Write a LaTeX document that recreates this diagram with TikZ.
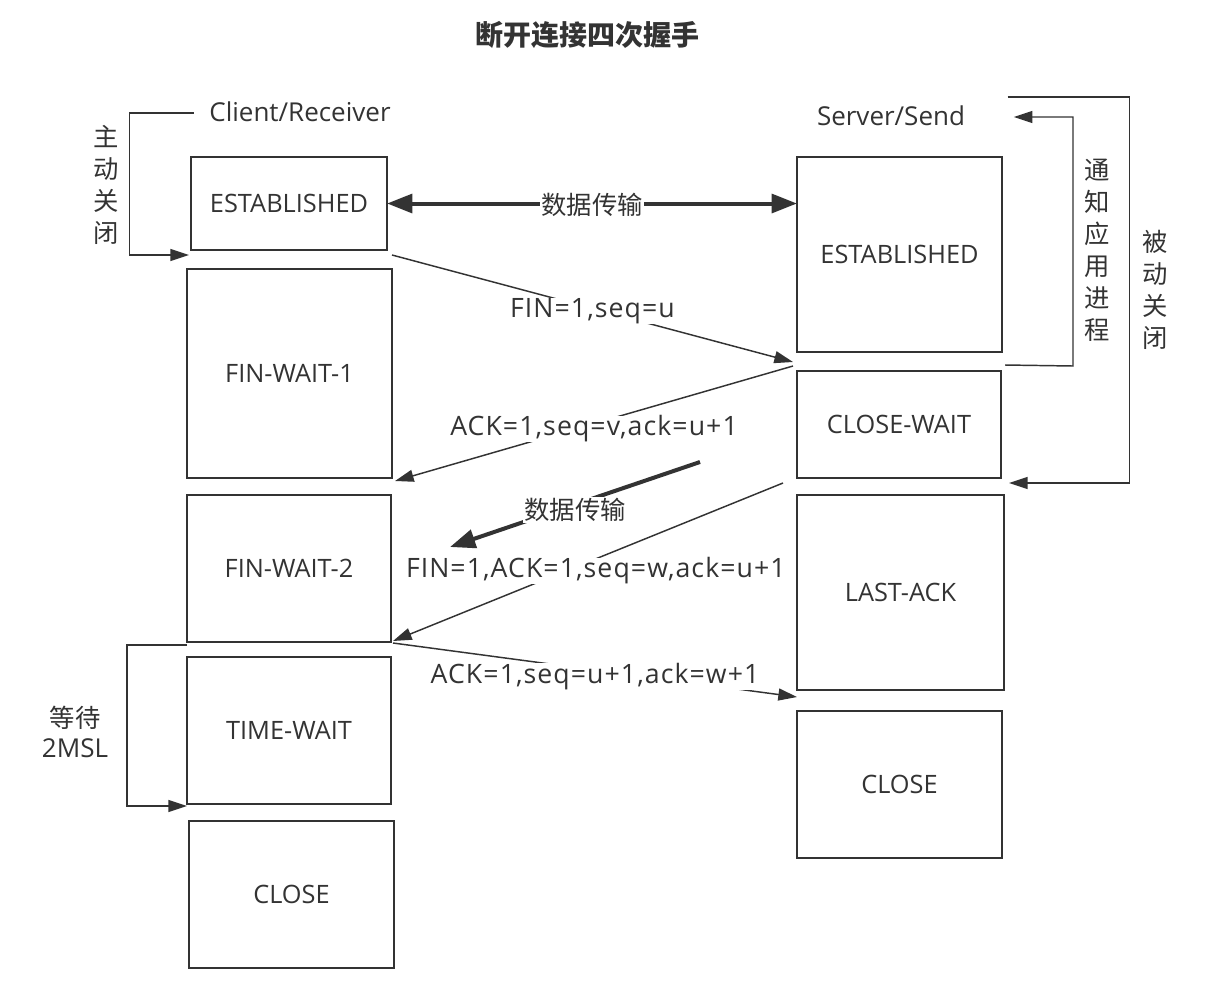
\documentclass[tikz,border=0pt]{standalone}
\usepackage{fontspec}
\setmainfont{Open Sans}
\newfontfamily\cjk{Noto Sans CJK SC}
\newfontfamily\lblfont[LetterSpace=4]{Open Sans}
\usetikzlibrary{arrows.meta,calc}
\definecolor{ink}{HTML}{333333}
\begin{document}
\begin{tikzpicture}[x=0.75pt,y=-0.75pt,
  every node/.style={text=ink,font=\fontsize{19}{22}\selectfont},
  state/.style={draw=ink,line width=1.5pt,outer sep=0pt,inner sep=0pt},
  conn/.style={draw=ink,line width=1.1pt,-{Triangle[length=14pt,width=9pt]}},
  thickconn/.style={draw=ink,line width=3pt,-{Triangle[length=19pt,width=14pt]}},
  lbl/.style={fill=white,inner sep=0pt,font=\lblfont\fontsize{20}{22}\selectfont},
  cjklbl/.style={fill=white,inner sep=1pt,font=\cjk\fontsize{19}{22}\selectfont},
  cjkv/.style={align=center,font=\cjk\fontsize{19}{24}\selectfont}]
\useasboundingbox (0,0) rectangle (1214,1000);

\node[font=\cjk\bfseries\fontsize{21}{24}\selectfont] (title) at (587,35) {断开连接四次握手};
\node[font=\fontsize{19.5}{22}\selectfont] (client) at (300,112) {Client/Receiver};
\node[font=\fontsize{19.5}{22}\selectfont] (server) at (891,116) {Server/Send};

% left column
\node[state,minimum width=147pt,minimum height=69.75pt] (estL) at (289,203.5) {ESTABLISHED};
\node[state,minimum width=153.75pt,minimum height=156.75pt] (fw1) at (289.5,373.5) {FIN-WAIT-1};
\node[state,minimum width=153pt,minimum height=110.25pt] (fw2) at (289,568.5) {FIN-WAIT-2};
\node[state,minimum width=153pt,minimum height=110.25pt] (tw) at (289,730.5) {TIME-WAIT};
\node[state,minimum width=153.75pt,minimum height=110.25pt] (closeL) at (291.5,894.5) {CLOSE};

% right column
\node[state,minimum width=153.75pt,minimum height=146.25pt] (estR) at (899.5,254.5) {ESTABLISHED};
\node[state,minimum width=153pt,minimum height=80.25pt] (cw) at (899,424.5) {CLOSE-WAIT};
\node[state,minimum width=155.25pt,minimum height=146.25pt] (la) at (900.5,592.5) {LAST-ACK};
\node[state,minimum width=153.75pt,minimum height=110.25pt] (closeR) at (899.5,784.5) {CLOSE};

% side labels
\node[cjkv] (zd) at (106,185) {主\\动\\关\\闭};
\node[cjkv] (tz) at (1097,250) {通\\知\\应\\用\\进\\程};
\node[cjkv] (bd) at (1155,290) {被\\动\\关\\闭};
\node[align=center,font=\fontsize{19.5}{23}\selectfont] (wait) at (75,732) {{\cjk\fontsize{19}{23}\selectfont 等待}\\2MSL};

% data transfer
\draw[thickconn,{Triangle[length=19pt,width=14pt]}-{Triangle[length=19pt,width=14pt]}]
  (estL.east) -- node[cjklbl,pos=0.5,yshift=-1pt] (d1) {数据传输} (estL.east -| estR.west);

% FIN
\draw[conn] ($(estL.south east)+(5,5)$) -- node[lbl,pos=0.5,yshift=-2pt] (l1) {FIN=1,seq=u} ($(estR.south west)+(-4,10)$);
% ACK
\draw[conn] ($(estR.south west)+(-4,14)$) -- node[lbl,pos=0.5,yshift=-4pt] (l2) {ACK=1,seq=v,ack=u+1} ($(fw1.south east)+(3,3)$);
% data transfer 2
\coordinate (d2s) at (700,462);
\coordinate (d2e) at (450,547);
\draw[thickconn] (d2s) -- node[cjklbl,pos=0.5,yshift=-4pt] (d2) {数据传输} (d2e);
% FIN2
\draw[conn] ($(cw.south west)+(-14,5)$) -- node[lbl,pos=0.48,yshift=-9pt] (l3) {FIN=1,ACK=1,seq=w,ack=u+1} ($(fw2.south east)+(2,-1)$);
% ACK2
\draw[conn] ($(fw2.south east)+(2,1)$) -- node[lbl,pos=0.5,yshift=-5pt] (l4) {ACK=1,seq=u+1,ack=w+1} ($(la.south west)+(0,7)$);

% brackets
\draw[conn] ($(client.west)+(-11,1)$) -- ++(-64,0) |- ($(estL.south west)+(-2,5)$);
\draw[conn] ($(estR.south east)+(3,13)$) -- ++(68,1) |- ($(server.east)+(44,1)$);
\draw[conn] ($(server.east)+(38,-19)$) -- ++(122,0) |- ($(cw.south east)+(8,5)$);
\draw[conn] ($(fw2.south west)+(0,3)$) -- ++(-60,0) |- ($(tw.south west)+(0,2)$);
\end{tikzpicture}
\end{document}
